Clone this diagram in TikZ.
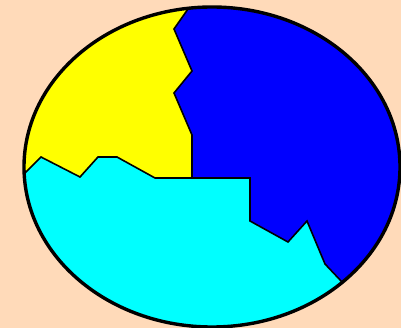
\documentclass[tikz,border=0pt]{standalone}
\usepackage{tikz}
\definecolor{peach}{HTML}{FFDAB9}
\definecolor{pieyellow}{RGB}{255,255,0}
\definecolor{pieblue}{RGB}{0,0,255}
\definecolor{piecyan}{RGB}{0,255,255}
\tikzset{
  border/.style={line width=1.6pt, line join=miter},
  rim/.style={line width=3.4pt}
}
\begin{document}
\begin{tikzpicture}[x=1pt, y=-1pt]
  % Background
  \fill[peach] (0,0) rectangle (401,328);
  \useasboundingbox (0,0) rectangle (401,328);

  % Regions, clipped to the ellipse
  \begin{scope}
    \clip (212,167) ellipse [x radius=188, y radius=160];
    \fill[piecyan] (0,0) rectangle (401,328);
    \fill[pieyellow] (0,0) -- (194,0) -- (188,9) -- (174,29) -- (192,71) -- (174,93)
      -- (192,135) -- (192,178) -- (155,178) -- (117,157) -- (98,157) -- (80,177)
      -- (41,157) -- (25,173) -- (0,195) -- cycle;
    \fill[pieblue] (194,0) -- (188,9) -- (174,29) -- (192,71) -- (174,93) -- (192,135)
      -- (192,178) -- (250,178) -- (250,221) -- (288,242) -- (307,221) -- (325,264)
      -- (342,282) -- (380,322) -- (420,340) -- (420,0) -- cycle;

    % Borders between regions
    \draw[border] (194,0) -- (188,9) -- (174,29) -- (192,71) -- (174,93) -- (192,135)
      -- (192,178);
    \draw[border] (0,195) -- (25,173) -- (41,157) -- (80,177) -- (98,157) -- (117,157)
      -- (155,178) -- (250,178) -- (250,221) -- (288,242) -- (307,221) -- (325,264)
      -- (342,282) -- (380,322);
  \end{scope}

  % Outline
  \draw[rim] (212,167) ellipse [x radius=188, y radius=160];
\end{tikzpicture}
\end{document}
